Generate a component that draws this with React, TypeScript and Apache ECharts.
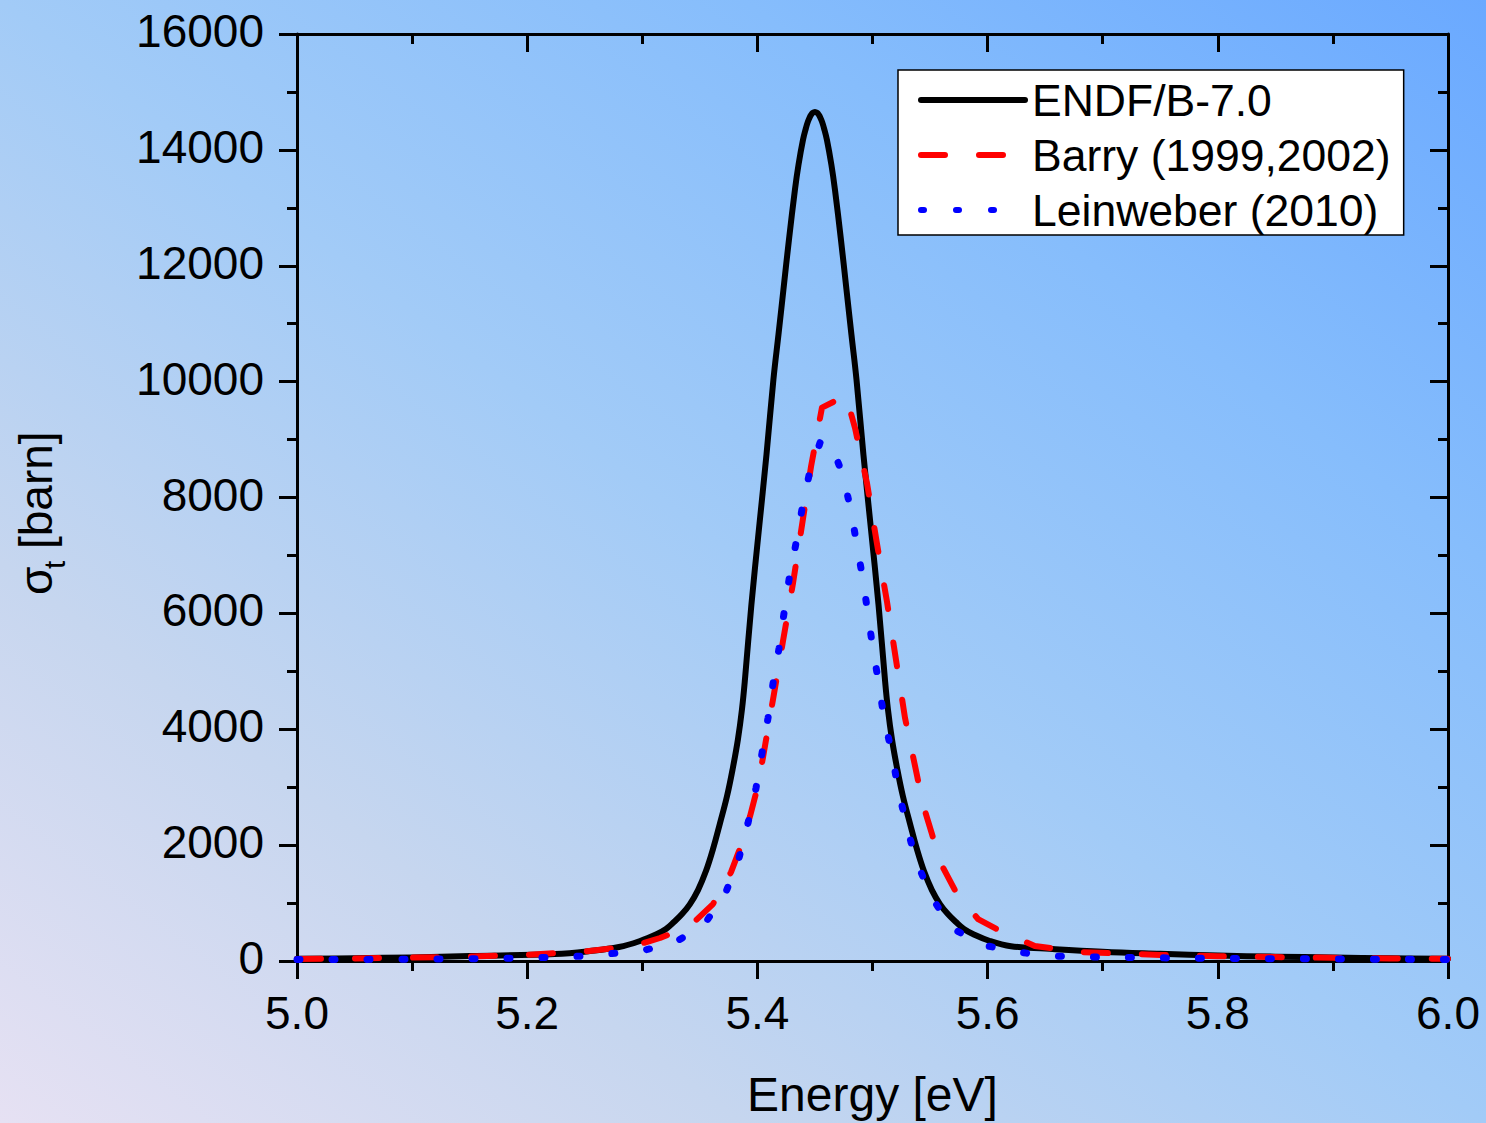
import React, { useEffect, useRef } from "react";
import * as echarts from "echarts";

// ---- data: [energy eV, sigma_t barn] ----
const endfData: [number, number][] = [
  [5.0, 38], [5.05, 48], [5.1, 62], [5.15, 85], [5.2241, 121], [5.2545, 172], [5.2797, 241],
  [5.298, 345], [5.3128, 466], [5.3206, 552], [5.3275, 672], [5.3345, 810], [5.3414, 983],
  [5.3484, 1224], [5.3553, 1552], [5.3614, 1931], [5.3675, 2379], [5.3736, 2845], [5.3788, 3345],
  [5.3831, 3828], [5.3866, 4345], [5.3892, 4862], [5.3948, 6155], [5.4013, 7448], [5.4079, 8741],
  [5.4139, 10034], [5.4183, 10810], [5.4226, 11586], [5.4274, 12448], [5.4326, 13310],
  [5.4357, 13741], [5.4396, 14172], [5.4422, 14379], [5.4438, 14483], [5.4452, 14552],
  [5.4466, 14603], [5.448, 14638], [5.45, 14655], [5.452, 14638], [5.4534, 14603], [5.4548, 14552],
  [5.4562, 14483], [5.4578, 14379], [5.4604, 14172], [5.4643, 13741], [5.4674, 13310],
  [5.4726, 12448], [5.4774, 11586], [5.4817, 10810], [5.4861, 10034], [5.4921, 8741],
  [5.4987, 7448], [5.5052, 6155], [5.5108, 4862], [5.5134, 4345], [5.5169, 3828], [5.5212, 3345],
  [5.5264, 2845], [5.5325, 2379], [5.5386, 1931], [5.5447, 1552], [5.5516, 1224], [5.5586, 983],
  [5.5655, 810], [5.5725, 672], [5.5794, 552], [5.5872, 466], [5.602, 345], [5.6203, 255],
  [5.65, 215], [5.7, 160], [5.75, 125], [5.8, 95], [5.85, 75], [5.9, 60], [5.95, 48], [6.0, 40],
];

const barryData: [number, number][] = [
  [5.0, 35], [5.05, 45], [5.1, 58], [5.15, 78], [5.2, 108], [5.25, 165], [5.275, 220],
  [5.298, 293], [5.3154, 397], [5.3414, 603], [5.3614, 983], [5.3771, 1534], [5.3857, 1983],
  [5.3936, 2500], [5.3997, 2966], [5.4049, 3517], [5.4136, 4517], [5.4222, 5517], [5.4309, 6517],
  [5.4387, 7517], [5.4466, 8534], [5.4561, 9552], [5.477, 9760], [5.4848, 9200], [5.4952, 8250],
  [5.5039, 7200], [5.5126, 6200], [5.5204, 5200], [5.5282, 4200], [5.5387, 3200], [5.5439, 2700],
  [5.5517, 2190], [5.5587, 1707], [5.5734, 1155], [5.5917, 724], [5.611, 517], [5.641, 259],
  [5.68, 155], [5.75, 105], [5.8, 82], [5.85, 68], [5.9, 55], [5.95, 45], [6.0, 38],
];

const leinweberData: [number, number][] = [
  [5.0, 25], [5.1, 30], [5.2, 50], [5.25, 85], [5.298, 172], [5.3258, 293], [5.3536, 621],
  [5.3727, 1190], [5.384, 1776], [5.3918, 2379], [5.3988, 2983], [5.404, 3586], [5.4092, 4190],
  [5.4136, 4793], [5.4188, 5397], [5.4231, 6000], [5.4275, 6586], [5.4335, 7207], [5.4387, 7793],
  [5.4448, 8379], [5.4545, 8950], [5.4635, 8950], [5.4744, 8379], [5.4813, 7776], [5.4865, 7172],
  [5.4917, 6586], [5.4961, 5983], [5.5004, 5379], [5.5056, 4776], [5.51, 4190], [5.5169, 3586],
  [5.5221, 2983], [5.5291, 2379], [5.5369, 1793], [5.5491, 1190], [5.5673, 586], [5.596, 276],
  [5.6255, 155], [5.656, 86], [5.7, 65], [5.8, 45], [5.9, 35], [6.0, 25],
];

const seriesNames = ["ENDF/B-7.0", "Barry (1999,2002)", "Leinweber (2010)"];
const xAxisTitle = "Energy [eV]";

const FONT = '"Liberation Sans", Arial, sans-serif';

export default function App() {
  const ref = useRef<HTMLDivElement>(null);

  useEffect(() => {
    if (!ref.current) return;
    const chart = echarts.init(ref.current, null, { renderer: "svg" });

    const axisLine = { show: true, onZero: false, lineStyle: { color: "#000", width: 3 } };
    const tickStyle = { color: "#000", width: 3 };

    const option: any = {
      animation: false,
      textStyle: { fontFamily: FONT },
      grid: { left: 297, top: 34, right: 38, bottom: 161, containLabel: false },
      xAxis: [
        {
          type: "value",
          position: "bottom",
          min: 5.0,
          max: 6.0,
          interval: 0.2,
          axisLine,
          axisTick: { show: true, inside: false, length: 18, lineStyle: tickStyle },
          minorTick: { show: true, splitNumber: 2, length: 10, lineStyle: tickStyle },
          splitLine: { show: false },
          axisLabel: {
            show: true,
            margin: 29,
            fontSize: 46,
            color: "#000",
            fontFamily: FONT,
            formatter: (v: number) => v.toFixed(1),
          },
          name: xAxisTitle,
          nameLocation: "middle",
          nameGap: 109,
          nameTextStyle: { fontSize: 48, color: "#000", fontFamily: FONT },
        },
        {
          type: "value",
          position: "top",
          min: 5.0,
          max: 6.0,
          interval: 0.2,
          axisLine,
          axisTick: { show: true, inside: true, length: 18, lineStyle: tickStyle },
          minorTick: { show: true, splitNumber: 2, length: 10, lineStyle: tickStyle },
          splitLine: { show: false },
          axisLabel: { show: false },
        },
      ],
      yAxis: [
        {
          type: "value",
          position: "left",
          min: 0,
          max: 16000,
          interval: 2000,
          axisLine,
          axisTick: { show: true, inside: false, length: 18, lineStyle: tickStyle },
          minorTick: { show: true, splitNumber: 2, length: 10, lineStyle: tickStyle },
          splitLine: { show: false },
          axisLabel: {
            show: true,
            margin: 33,
            fontSize: 46,
            color: "#000",
            fontFamily: FONT,
            verticalAlign: "bottom",
            lineHeight: 6,
            formatter: (v: number) => String(v),
          },
        },
        {
          type: "value",
          position: "right",
          min: 0,
          max: 16000,
          interval: 2000,
          axisLine,
          axisTick: { show: true, inside: true, length: 18, lineStyle: tickStyle },
          minorTick: { show: true, splitNumber: 2, length: 10, lineStyle: tickStyle },
          splitLine: { show: false },
          axisLabel: { show: false },
        },
      ],
      legend: {
        show: true,
        orient: "vertical",
        left: 898,
        top: 70,
        data: seriesNames,
        backgroundColor: "#ffffff",
        borderColor: "#000",
        borderWidth: 1.5,
        borderRadius: 0,
        padding: [5, 13, 0, 20],
        itemGap: 5,
        itemWidth: 104,
        itemHeight: 2,
        textStyle: { fontSize: 44.5, lineHeight: 50, color: "#000", fontFamily: FONT, padding: [0, 0, 0, 2] },
        lineStyle: { width: 6 },
        itemStyle: { opacity: 0, borderWidth: 0 },
        selectedMode: false,
      },
      series: [
        {
          name: seriesNames[0],
          type: "line",
          data: endfData,
          showSymbol: false,
          symbol: "none",
          smooth: 0.4,
          lineStyle: { color: "#000000", width: 6, type: "solid", cap: "round", join: "round" },
          itemStyle: { color: "#000000" },
          z: 3,
        },
        {
          name: seriesNames[1],
          type: "line",
          data: barryData,
          showSymbol: false,
          symbol: "none",
          smooth: false,
          lineStyle: { color: "#ff0000", width: 6, type: [24, 34], cap: "round", join: "round" },
          itemStyle: { color: "#ff0000" },
          z: 4,
        },
        {
          name: seriesNames[2],
          type: "line",
          data: leinweberData,
          showSymbol: false,
          symbol: "none",
          smooth: false,
          lineStyle: { color: "#0000ff", width: 7, type: [3, 32], cap: "round", join: "round" },
          itemStyle: { color: "#0000ff" },
          z: 5,
        },
      ],
      graphic: [
        {
          type: "group",
          x: 59,
          y: 511,
          rotation: Math.PI / 2,
          children: [
            {
              type: "text",
              x: -84,
              y: 0,
              style: { text: "σ", font: `46px ${FONT}`, fill: "#000", verticalAlign: "bottom", align: "left" },
            },
            {
              type: "text",
              x: -58,
              y: 10,
              style: { text: "t", font: `30px ${FONT}`, fill: "#000", verticalAlign: "bottom", align: "left" },
            },
            {
              type: "text",
              x: -38,
              y: 0,
              style: { text: "[barn]", font: `46px ${FONT}`, fill: "#000", verticalAlign: "bottom", align: "left" },
            },
          ],
        },
      ],
    };

    chart.setOption(option);
    return () => chart.dispose();
  }, []);

  return (
    <div
      style={{
        position: "absolute",
        left: 0,
        top: 0,
        width: 1486,
        height: 1123,
        background:
          "linear-gradient(to top right, #e6e1f3 0%, #c6d6ef 25%, #a2cbf7 50%, #86bdfc 75%, #6aa9ff 100%)",
      }}
    >
      <div ref={ref} style={{ width: 1486, height: 1123 }} />
    </div>
  );
}
